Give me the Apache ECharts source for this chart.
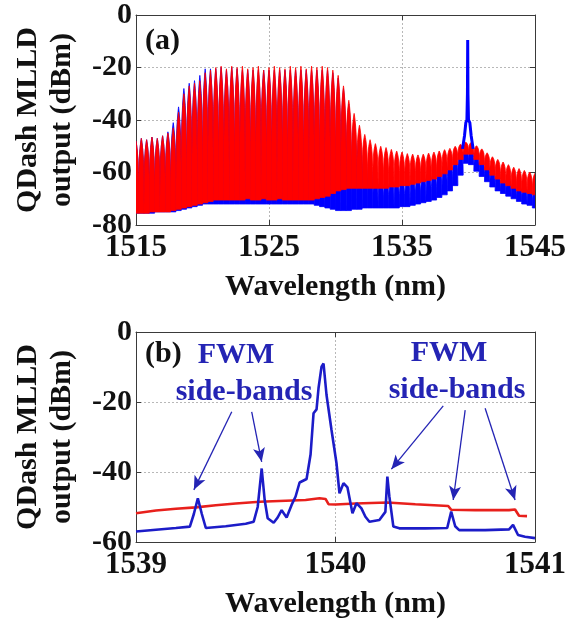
<!DOCTYPE html>
<html>
<head>
<meta charset="utf-8">
<script src="https://cdn.jsdelivr.net/npm/echarts@6/dist/echarts.min.js"></script>
<style>
html,body{margin:0;padding:0;background:#fff;}
#chart{width:569px;height:621px;}
</style>
</head>
<body>
<div id="chart"></div>
<script>
// ---------- Panel (a): comb spectrum, one entry per longitudinal mode ----------
const modesNm = [
 1515.0,1515.4,1515.8,1516.2,1516.6,1517.0,1517.4,1517.8,1518.2,1518.6,
 1519.0,1519.4,1519.8,1520.2,1520.6,1521.0,1521.4,1521.8,1522.2,1522.6,
 1523.0,1523.4,1523.8,1524.2,1524.6,1525.0,1525.4,1525.8,1526.2,1526.6,
 1527.0,1527.4,1527.8,1528.2,1528.6,1529.0,1529.4,1529.8,1530.2,1530.6,
 1531.0,1531.4,1531.8,1532.2,1532.6,1533.0,1533.4,1533.8,1534.2,1534.6,
 1535.0,1535.4,1535.8,1536.2,1536.6,1537.0,1537.4,1537.8,1538.2,1538.6,
 1539.0,1539.4,1539.8,1540.2,1540.6,1541.0,1541.4,1541.8,1542.2,1542.6,
 1543.0,1543.4,1543.8,1544.2,1544.6,1545.0
];
const redPeak = [
 -48,-47,-47.5,-46.5,-47,-46,-45,-43,-37,-30,
 -27,-26,-25,-22,-21,-20,-19.5,-20.5,-19.5,-20,
 -19.5,-20.5,-20,-19.5,-21,-20,-19.5,-20,-20.5,-19.5,
 -20,-19.5,-20.5,-19.5,-20,-19.5,-20,-21,-23,-27,
 -32.5,-37.5,-42,-45.5,-47.5,-49,-50,-50.5,-51.2,-51.8,
 -52.2,-52.8,-53,-53.3,-53,-52.6,-52.2,-51.8,-51.3,-50.8,
 -50,-49.2,-48.4,-48.5,-49.8,-51,-52.5,-54,-55,-56,
 -57,-58,-58.5,-59.2,-59.8,-60.3
];
const redFloor = [
 -75.5,-75.5,-75.5,-75,-75,-75,-75,-74.5,-74,-73.5,
 -73,-72.5,-72,-71.5,-71,-70.5,-70.5,-70.5,-70.5,-70.5,
 -70.5,-70,-70.5,-70.5,-70,-70.5,-70.5,-70,-70.5,-70.5,
 -70.5,-70.5,-70.5,-70.5,-70,-69.5,-69,-68,-67,-66.5,
 -66,-66,-66,-66,-66,-66,-66,-66,-65.5,-65.5,
 -65,-65,-64.5,-64,-63.5,-63,-62.5,-61.5,-60.5,-59,
 -57,-55,-53,-53,-55,-57,-59,-61,-62.5,-64,
 -65,-66,-67,-67.5,-68,-68.5
];
const bluePeak = [
 -48,-47,-47.5,-46.5,-47,-46,-44.5,-41,-35,-28,
 -26,-25,-23,-20.5,-20.5,-20.5,-20,-21,-20,-20.5,
 -21,-21,-21,-21,-21,-21,-21,-21,-21,-21,
 -21,-21,-21,-21,-21,-21,-21,-22,-24,-28,
 -34,-40,-45,-50,-55,-61,-61.5,-62,-62,-62,
 -62,-62,-61.5,-61,-60.5,-60,-59,-58,-56.5,-55,
 -54,-52,-50.5,-51,-52.5,-54.5,-56.5,-58.5,-60,-61.5,
 -62.5,-63.5,-64.5,-65,-65.5,-66
];
const blueFloor = [
 -75.5,-75.5,-75.5,-75.5,-75,-75,-75,-75,-74.5,-74,
 -73.5,-73,-72.5,-72,-72,-72,-72,-72,-72,-72,
 -72,-72,-72,-72,-72,-72,-72,-72,-72,-72,
 -72,-72,-72,-72,-72.5,-73,-73.5,-74,-74.5,-74.5,
 -74.5,-74,-74,-73.5,-73.5,-73.5,-73.5,-73.5,-73.5,-73.5,
 -73,-73,-72.5,-72,-71.5,-71,-70.5,-69.5,-68.5,-67,
 -65,-61,-56.5,-57,-59.5,-61.5,-63.5,-65.5,-67,-68,
 -69,-70,-71,-72,-72.5,-73.5
];
// injected master line of panel (a)
const spikeNm   = [1539.55,1539.7,1539.8,1539.88,1539.92,1539.94,1539.96,1540.0,1540.1,1540.2,1540.35];
const spikeDbm  = [-51,-46,-41,-40,-30,-9.5,-30,-40,-41,-46,-51];

// ---------- Panel (b): zoom around 1540 nm ----------
const bBlueNm = [1539.00,1539.10,1539.20,1539.27,1539.29,1539.31,1539.33,1539.35,1539.45,1539.55,
 1539.59,1539.61,1539.63,1539.645,1539.66,1539.69,1539.71,1539.73,1539.755,1539.78,
 1539.80,1539.82,1539.855,1539.875,1539.89,1539.905,1539.915,1539.93,1539.94,1539.955,
 1539.98,1540.005,1540.02,1540.04,1540.06,1540.085,1540.105,1540.13,1540.15,1540.17,
 1540.22,1540.25,1540.26,1540.27,1540.29,1540.32,1540.45,1540.56,1540.58,1540.60,
 1540.62,1540.75,1540.87,1540.89,1540.915,1540.95,1541.00];
const bBlueDbm = [-57.0,-56.5,-56.0,-55.6,-52,-47.5,-52,-56.0,-55.5,-54.8,
 -54.2,-50,-39.0,-48,-53.2,-54.5,-53,-50.9,-53,-49.4,
 -47,-43.0,-42.0,-35,-23.2,-22.1,-16,-9.9,-9.0,-18,
 -28,-37.5,-46.1,-43.2,-44.4,-51.8,-48.9,-50.4,-52.8,-54.2,
 -53.7,-51.4,-41.3,-47,-55.6,-56.1,-56.1,-56.0,-51.3,-55.5,
 -56.6,-56.6,-56.4,-55.1,-58.0,-58.5,-58.9];
const bRedNm = [1539.00,1539.10,1539.20,1539.30,1539.40,1539.50,1539.62,1539.75,1539.85,1539.92,
 1539.95,1539.965,1540.00,1540.10,1540.26,1540.40,1540.565,1540.58,1540.70,1540.87,
 1540.90,1540.92,1540.96];
const bRedDbm = [-51.8,-51.0,-50.5,-50.1,-49.5,-49.0,-48.5,-48.2,-48.0,-47.5,
 -47.7,-49.2,-49.3,-49.0,-48.7,-49.2,-49.7,-50.8,-50.9,-50.9,
 -50.7,-52.5,-52.6];
// FWM arrows: [tailNm, tailDbm, headNm, headDbm]
const arrows = [
 [1539.48,-22.8,1539.29,-45.1],
 [1539.58,-22.8,1539.63,-37.1],
 [1540.54,-21.1,1540.28,-39.2],
 [1540.65,-22.3,1540.59,-48.0],
 [1540.75,-21.8,1540.90,-48.0]
];
const topXTicks = [1515,1545,10];
const topYTicks = [-80,0,20];
const botXTicks = [1539,1541,1];
const botYTicks = [-60,0,20];

const FONT = '"Liberation Serif","Times New Roman",serif';
const BLUE = '#0000ff', RED = '#ff0000';
const BBLUE = '#1c1cc8', BRED = '#e8201c', ANN = '#2424b4';

const zip = (a,b) => a.map((v,i)=>[v,b[i]]);
const combData = (pk, fl) => modesNm.map((nm,i)=>[nm, pk[i], fl[i]]);

// line-shape of one mode (dx in half-spacings, f = fraction of floor->peak)
const SHAPE = [[-1,0],[-0.93,0.45],[-0.76,0.72],[-0.5,0.86],[-0.25,0.94],[-0.08,0.985],[0,1],
               [0.08,0.985],[0.25,0.94],[0.5,0.86],[0.76,0.72],[0.93,0.45],[1,0]];
function combRender(color){
  return function(params, api){
    const nm = api.value(0), pk = api.value(1), fl = api.value(2);
    const h = 0.2;
    const pts = SHAPE.map(([dx,f]) => api.coord([nm + dx*h, fl + f*(pk-fl)]));
    return {type:'polygon', shape:{points:pts},
            style:{fill:color, stroke:color, lineWidth:0.8}};
  };
}
const plainNum = v => String(v);

function xAxes(gi, t){
  const base = {
    type:'value', gridIndex:gi, min:t[0], max:t[1], interval:t[2],
    axisLine:{show:true, onZero:false, lineStyle:{color:'#3a3a3a', width:1}},
    axisTick:{show:true, inside:true, length:5, lineStyle:{color:'#3a3a3a'}},
  };
  return [
    Object.assign({}, base, {
      position:'bottom',
      axisLabel:{show:true, formatter:plainNum, fontFamily:FONT, fontWeight:'bold', fontSize:31, color:'#111', margin:7},
      splitLine:{show:true, lineStyle:{color:'#b8b8b8', type:[2,2], width:1}},
      name:'Wavelength (nm)', nameLocation:'middle', nameGap:47,
      nameTextStyle:{fontFamily:FONT, fontWeight:'bold', fontSize:30, color:'#111'}
    }),
    Object.assign({}, base, {
      position:'top', axisLabel:{show:false}, splitLine:{show:false}
    })
  ];
}
function yAxes(gi, t){
  const base = {
    type:'value', gridIndex:gi, min:t[0], max:t[1], interval:t[2],
    axisLine:{show:true, onZero:false, lineStyle:{color:'#3a3a3a', width:1}},
    axisTick:{show:true, inside:true, length:5, lineStyle:{color:'#3a3a3a'}},
  };
  return [
    Object.assign({}, base, {
      position:'left',
      axisLabel:{show:true, formatter:plainNum, fontFamily:FONT, fontWeight:'bold', fontSize:30, color:'#111', margin:4},
      splitLine:{show:true, lineStyle:{color:'#b8b8b8', type:[2,2], width:1}},
      name:'QDash MLLD\noutput (dBm)', nameLocation:'middle', nameGap:57,
      nameTextStyle:{fontFamily:FONT, fontWeight:'bold', fontSize:30, color:'#111', lineHeight:34}
    }),
    Object.assign({}, base, {
      position:'right', axisLabel:{show:false}, splitLine:{show:false}
    })
  ];
}

const chart = echarts.init(document.getElementById('chart'), null, {renderer:'canvas'});
const option = {
  animation:false,
  backgroundColor:'#fff',
  grid:[
    {left:136, top:15, width:399, height:210},
    {left:136, top:332, width:399, height:210}
  ],
  xAxis:[...xAxes(0, topXTicks), ...xAxes(1, botXTicks)],
  yAxis:[...yAxes(0, topYTicks), ...yAxes(1, botYTicks)],
  series:[
    {type:'custom', xAxisIndex:0, yAxisIndex:0, clip:true,
     renderItem:combRender(BLUE), encode:{x:0, y:[1,2]},
     data:combData(bluePeak, blueFloor), z:2},
    {type:'custom', xAxisIndex:0, yAxisIndex:0, clip:true,
     renderItem:combRender(RED), encode:{x:0, y:[1,2]},
     data:combData(redPeak, redFloor), z:3},
    {type:'line', xAxisIndex:0, yAxisIndex:0, data:zip(spikeNm, spikeDbm),
     symbol:'none', lineStyle:{color:BLUE, width:3}, z:4},
    {type:'line', xAxisIndex:2, yAxisIndex:2, data:zip(bRedNm, bRedDbm),
     symbol:'none', lineStyle:{color:BRED, width:2.6}, z:3},
    {type:'line', xAxisIndex:2, yAxisIndex:2, data:zip(bBlueNm, bBlueDbm),
     symbol:'none', lineStyle:{color:BBLUE, width:2.6}, z:4,
     markLine:{
       silent:true, animation:false,
       symbol:['none','arrow'], symbolSize:[9,14],
       label:{show:false},
       lineStyle:{color:ANN, width:1.3, type:'solid'},
       data: arrows.map(a => [{coord:[a[0],a[1]]},{coord:[a[2],a[3]]}])
     }}
  ],
  graphic:[
    {type:'text', left:145, top:26, style:{text:'(a)', font:'bold 30px '+FONT, fill:'#111'}},
    {type:'text', left:145, top:339, style:{text:'(b)', font:'bold 30px '+FONT, fill:'#111'}},
    {type:'text', x:236, y:355, style:{text:'FWM', font:'bold 30px '+FONT, fill:ANN, align:'center', verticalAlign:'middle'}},
    {type:'text', x:244, y:392, style:{text:'side-bands', font:'bold 30px '+FONT, fill:ANN, align:'center', verticalAlign:'middle'}},
    {type:'text', x:449, y:353, style:{text:'FWM', font:'bold 30px '+FONT, fill:ANN, align:'center', verticalAlign:'middle'}},
    {type:'text', x:457, y:390, style:{text:'side-bands', font:'bold 30px '+FONT, fill:ANN, align:'center', verticalAlign:'middle'}}
  ]
};
chart.setOption(option);
</script>
</body>
</html>
